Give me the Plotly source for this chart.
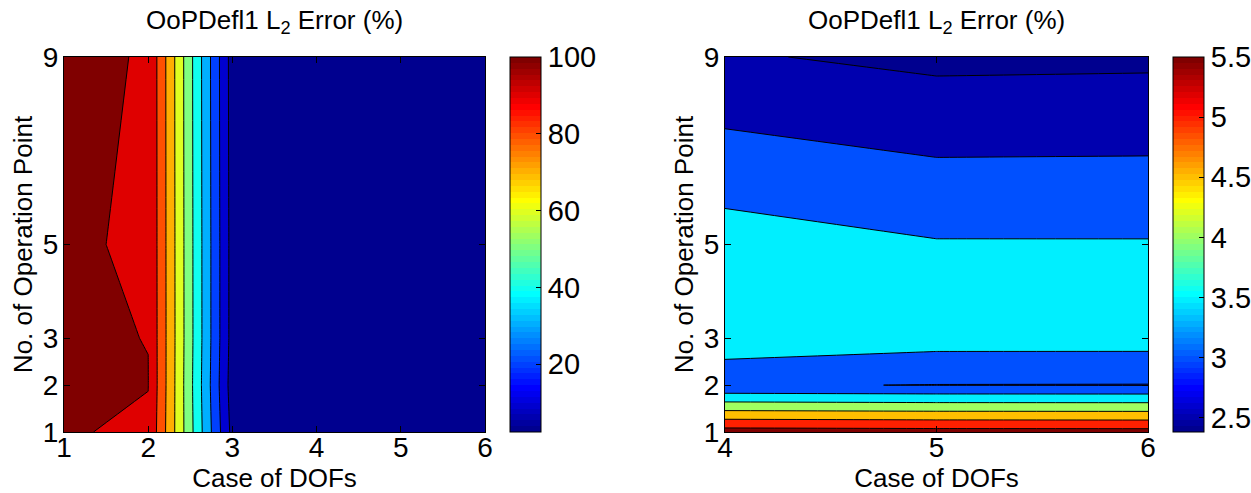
import plotly.graph_objects as go

# ---------------- data ----------------
dof_left = [1, 2, 3, 4, 5, 6]
dof_right = [4, 5, 6]
op_points = [1, 2, 3, 5, 9]

# L2 error (%) rows = operation points (1,2,3,5,9), columns = DOF cases 1..6
err_op1 = [100.54, 99.0, 7.0, 5.735, 5.70, 5.69]
err_op2 = [100.8, 100.15, 5.0, 3.03, 2.99, 2.985]
err_op3 = [100.7, 99.92, 6.0, 3.885, 3.70, 3.70]
err_op5 = [100.2, 99.8, 6.0, 3.726, 3.535, 3.534]
err_op9 = [101.0, 99.7, 5.5, 2.55, 2.383, 2.404]

z_left = [err_op1, err_op2, err_op3, err_op5, err_op9]
z_right = [row[3:] for row in z_left]

left_levels = dict(start=10, end=100, size=10)
right_levels = dict(start=2.5, end=5.5, size=0.5)
left_cticks = [20, 40, 60, 80, 100]
right_cticks = [2.5, 3, 3.5, 4, 4.5, 5, 5.5]

title_text = "OoPDefl1 L<sub>2</sub> Error (%)"
xlabel = "Case of DOFs"
ylabel = "No. of Operation Point"

# ---------------- MATLAB jet(64) ----------------
def jet64():
    m, n = 64, 16
    u = [k / n for k in range(1, n + 1)] + [1.0] * (n - 1) + [k / n for k in range(n, 0, -1)]
    J = [[0.0, 0.0, 0.0] for _ in range(m)]
    for k, uv in enumerate(u, start=1):
        g = 8 + k
        r = g + n
        b = g - n
        if 1 <= r <= m:
            J[r - 1][0] = uv
        if 1 <= g <= m:
            J[g - 1][1] = uv
        if 1 <= b <= m:
            J[b - 1][2] = uv
    return J

JET = jet64()

def rgb(c):
    return "rgb(%d,%d,%d)" % tuple(round(v * 255) for v in c)

def cidx(val, cmin, cmax):
    i = int((val - cmin) / (cmax - cmin) * 64)
    return max(0, min(63, i))

def band_scale(levels, cmin, cmax):
    s, e, d = levels["start"], levels["end"], levels["size"]
    lv = []
    v = s
    while v <= e + d * 1e-6:
        lv.append(v)
        v += d
    nc = len(lv)
    cols = [rgb(JET[0])] + [rgb(JET[cidx(L, cmin, cmax)]) for L in lv]
    return [[i / nc, c] for i, c in enumerate(cols)]

def stepped_jet():
    sc = []
    for i, c in enumerate(JET):
        sc.append([i / 64, rgb(c)])
        sc.append([(i + 1) / 64, rgb(c)])
    return sc

left_c = (min(min(r) for r in z_left), 100)
right_c = (min(min(r) for r in z_right), 5.5)

W, H = 1251, 493
FONT = "Liberation Sans, Arial, Helvetica, sans-serif"
TICK_SIZE = 28
CB_TICK_SIZE = 29
LABEL_SIZE = 26
TITLE_SIZE = 26

def fx(p):
    return p / W

def fy(p):
    return 1 - p / H

L_x0, L_x1 = 64, 485
R_x0, R_x1 = 725, 1148
Y0, Y1 = 57, 432

fig = go.Figure()

fig.add_trace(go.Contour(
    x=dof_left, y=op_points, z=z_left,
    autocontour=False, contours=dict(coloring="fill", showlines=True, **left_levels),
    line=dict(color="black", width=1, smoothing=0),
    colorscale=band_scale(left_levels, *left_c), showscale=False,
    xaxis="x", yaxis="y", hoverinfo="skip"))

fig.add_trace(go.Contour(
    x=dof_right, y=op_points, z=z_right,
    autocontour=False, contours=dict(coloring="fill", showlines=True, **right_levels),
    line=dict(color="black", width=1, smoothing=0),
    colorscale=band_scale(right_levels, *right_c), showscale=False,
    xaxis="x2", yaxis="y2", hoverinfo="skip"))

def cbar(x0, ticks):
    return dict(
        x=fx(x0), xanchor="left", xpad=0, ypad=0,
        y=(fy(Y0) + fy(Y1)) / 2, yanchor="middle",
        len=(Y1 - Y0) / H, lenmode="fraction",
        thickness=31, thicknessmode="pixels",
        outlinecolor="black", outlinewidth=1,
        tickvals=ticks, ticks="inside", ticklen=5, tickcolor="black",
        tickfont=dict(family=FONT, size=CB_TICK_SIZE, color="black"))

fig.add_trace(go.Scatter(
    x=[1, 1], y=[1, 1], mode="markers", xaxis="x", yaxis="y",
    marker=dict(color=list(left_c), cmin=left_c[0], cmax=left_c[1], colorscale=stepped_jet(),
                opacity=0, size=1, showscale=True, colorbar=cbar(510, left_cticks)),
    hoverinfo="skip", showlegend=False))

fig.add_trace(go.Scatter(
    x=[4, 4], y=[1, 1], mode="markers", xaxis="x2", yaxis="y2",
    marker=dict(color=list(right_c), cmin=right_c[0], cmax=right_c[1], colorscale=stepped_jet(),
                opacity=0, size=1, showscale=True, colorbar=cbar(1173, right_cticks)),
    hoverinfo="skip", showlegend=False))

def xax(dom, rng, ticks, anchor):
    return dict(domain=dom, range=rng, tickvals=ticks, ticks="inside", ticklen=6,
                tickcolor="black", showline=True, linecolor="black", linewidth=1,
                mirror="ticks", showgrid=False, zeroline=False, automargin=False, anchor=anchor,
                ticklabelstandoff=-10,
                tickfont=dict(family=FONT, size=TICK_SIZE, color="black"),
                title=dict(text=xlabel, font=dict(family=FONT, size=LABEL_SIZE, color="black"), standoff=0))

def yax(anchor, ticks):
    return dict(domain=[fy(Y1), fy(Y0)], range=[1, 9], tickvals=ticks, ticks="inside", ticklen=6,
                tickcolor="black", showline=True, linecolor="black", linewidth=1,
                mirror="ticks", showgrid=False, zeroline=False, automargin=False, anchor=anchor,
                ticklabelstandoff=-1,
                tickfont=dict(family=FONT, size=TICK_SIZE, color="black"),
                title=dict(text=ylabel, font=dict(family=FONT, size=LABEL_SIZE, color="black"), standoff=2))

fig.update_layout(
    width=W, height=H, margin=dict(l=0, r=0, t=0, b=0, autoexpand=False),
    paper_bgcolor="white", plot_bgcolor="white", showlegend=False,
    xaxis=xax([fx(L_x0), fx(L_x1)], [1, 6], dof_left, "y"),
    yaxis=yax("x", op_points),
    xaxis2=xax([fx(R_x0), fx(R_x1)], [4, 6], dof_right, "y2"),
    yaxis2=yax("x2", op_points),
    annotations=[
        dict(text=title_text, x=(fx(L_x0) + fx(L_x1)) / 2, y=fy(22), xref="paper", yref="paper",
             showarrow=False, xanchor="center", yanchor="middle",
             font=dict(family=FONT, size=TITLE_SIZE, color="black")),
        dict(text=title_text, x=(fx(R_x0) + fx(R_x1)) / 2, y=fy(22), xref="paper", yref="paper",
             showarrow=False, xanchor="center", yanchor="middle",
             font=dict(family=FONT, size=TITLE_SIZE, color="black")),
    ],
)

fig.write_html("out.html", config={"displayModeBar": False},
               post_script="document.body.style.margin='0';")
